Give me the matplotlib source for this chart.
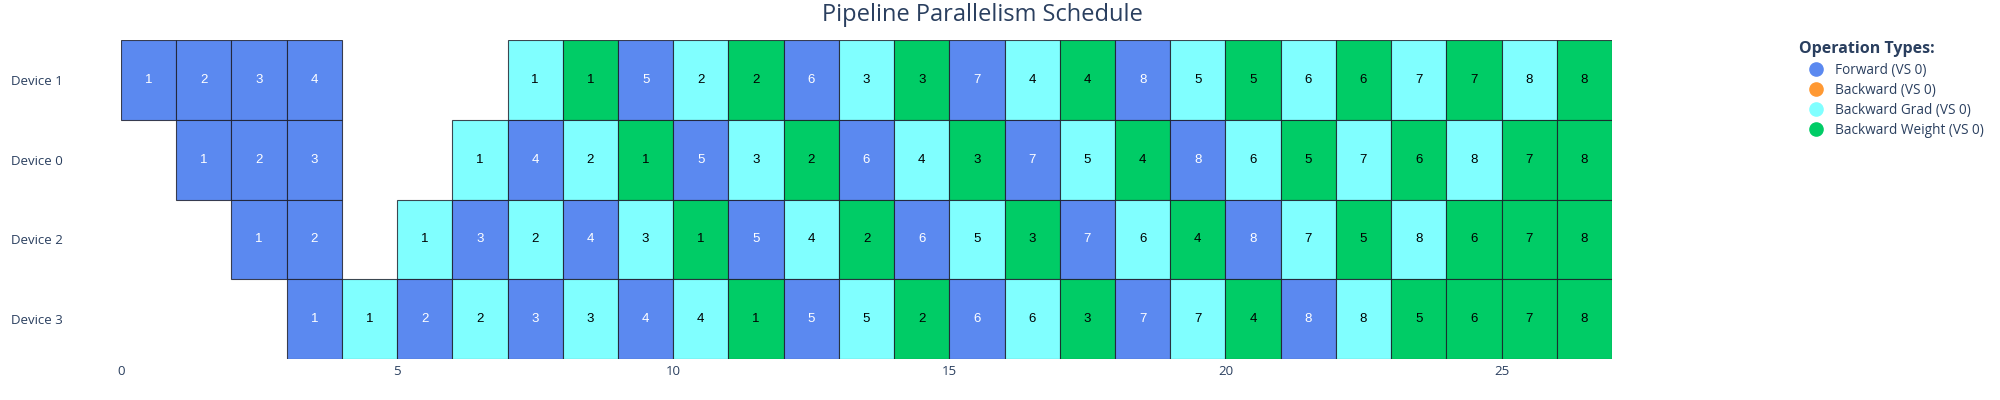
import matplotlib
matplotlib.use('Agg')
from matplotlib import pyplot as plt
from matplotlib.lines import Line2D

plt.rcParams['font.family'] = ['Open Sans', 'DejaVu Sans']

# Schedule per device, one slot per time step (None = idle).
# F = forward, B = backward, G = backward grad, W = backward weight; number = micro-batch
devices: list[str] = ['Device 1', 'Device 0', 'Device 2', 'Device 3']
device_1: list = ['F1', 'F2', 'F3', 'F4', None, None, None, 'G1', 'W1', 'F5', 'G2', 'W2', 'F6', 'G3',
                  'W3', 'F7', 'G4', 'W4', 'F8', 'G5', 'W5', 'G6', 'W6', 'G7', 'W7', 'G8', 'W8']
device_0: list = [None, 'F1', 'F2', 'F3', None, None, 'G1', 'F4', 'G2', 'W1', 'F5', 'G3', 'W2', 'F6', 'G4', 'W3',
                  'F7', 'G5', 'W4', 'F8', 'G6', 'W5', 'G7', 'W6', 'G8', 'W7', 'W8']
device_2: list = [None, None, 'F1', 'F2', None, 'G1', 'F3', 'G2', 'F4', 'G3', 'W1', 'F5', 'G4', 'W2', 'F6', 'G5',
                  'W3', 'F7', 'G6', 'W4', 'F8', 'G7', 'W5', 'G8', 'W6', 'W7', 'W8']
device_3: list = [None, None, None, 'F1', 'G1', 'F2', 'G2', 'F3', 'G3', 'F4', 'G4', 'W1', 'F5', 'G5', 'W2', 'F6',
                  'G6', 'W3', 'F7', 'G7', 'W4', 'F8', 'G8', 'W5', 'W6', 'W7', 'W8']
schedules: list[list] = [device_1, device_0, device_2, device_3]

op_codes: list[str] = ['F', 'B', 'G', 'W']
op_names: list[str] = ['Forward (VS 0)', 'Backward (VS 0)', 'Backward Grad (VS 0)', 'Backward Weight (VS 0)']
op_colors: list[str] = ['#5b89f0', '#ff9933', '#80ffff', '#00cc66']
op_text_colors: list[str] = ['white', 'black', 'black', 'black']
x_ticks: list[int] = [0, 5, 10, 15, 20, 25]

TEXT_COLOR = '#2a3f5f'

fig = plt.figure(figsize=(20, 4), dpi=100)
ax = fig.add_axes((121 / 2000, 1 - 359 / 400, (1612 - 121) / 2000, (359 - 40) / 400))

for row, schedule in enumerate(schedules):
    for t, op in enumerate(schedule):
        if op is None:
            continue
        k: int = op_codes.index(op[0])
        ax.barh(y=row, width=1, left=t, height=1, color=op_colors[k], edgecolor=(0.1, 0.1, 0.15, 0.8),
                linewidth=0.8)
        ax.text(x=t + 0.5, y=row, s=op[1:], ha='center', va='center', fontsize=9.5, color=op_text_colors[k],
                family=['Liberation Sans', 'DejaVu Sans'])

n_steps: int = max(len(s) for s in schedules)
ax.set_xlim(0, n_steps)
ax.set_ylim(len(devices) - 0.5, -0.5)
ax.set_xticks(x_ticks)
ax.set_yticks(range(len(devices)))
ax.set_yticklabels(devices)
ax.tick_params(axis='x', length=0, pad=4, labelsize=9.5, labelcolor=TEXT_COLOR)
ax.tick_params(axis='y', length=0, pad=42, labelsize=9.5, labelcolor=TEXT_COLOR)
for spine in ax.spines.values():
    spine.set_visible(False)

fig.text(x=982 / 2000, y=1 - 15 / 400, s='Pipeline Parallelism Schedule', ha='center', va='center', fontsize=17,
         color=TEXT_COLOR)

handles = [Line2D([], [], marker='o', linestyle='', markersize=9.5, color=c) for c in op_colors]
leg = ax.legend(handles=handles, labels=op_names, loc='upper left', bbox_to_anchor=(1794 / 2000, 1 - 36 / 400),
                bbox_transform=fig.transFigure, frameon=False, title='Operation Types:', alignment='left',
                fontsize=9.8, handletextpad=0.23, labelspacing=0.38, borderaxespad=0, handlelength=2.36)
leg.get_title().set_fontweight('bold')
leg.get_title().set_fontsize(11.5)
leg.get_title().set_color(TEXT_COLOR)
for txt in leg.get_texts():
    txt.set_color(TEXT_COLOR)

fig.savefig('out.png', dpi=100, facecolor='white')
